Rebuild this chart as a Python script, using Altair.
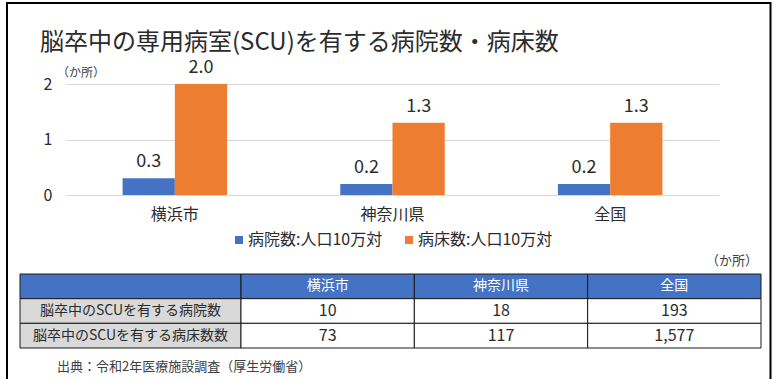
import altair as alt
import pandas as pd

FONT = "Noto Sans CJK JP"
DARK = "#2b2b2b"

# ---- chart values -------------------------------------------------------
title_text = "脳卒中の専用病室(SCU)を有する病院数・病床数"
unit_text = "（か所）"
source_text = "出典：令和2年医療施設調査（厚生労働省）"

regions = ["横浜市", "神奈川県", "全国"]
series_names = ["病院数:人口10万対", "病床数:人口10万対"]
hospitals_per_100k = [0.3, 0.2, 0.2]
beds_per_100k = [2.0, 1.3, 1.3]
series_colors = ["#4472C4", "#ED7D31"]
y_ticks = [0, 1, 2]

row_labels = ["脳卒中のSCUを有する病院数", "脳卒中のSCUを有する病床数数"]
hospital_counts = ["10", "18", "193"]
bed_counts = ["73", "117", "1,577"]

# ---- tables built from the values ----------------------------------------
bars_df = pd.DataFrame({
    "region": regions * 2,
    "series": [series_names[0]] * len(regions) + [series_names[1]] * len(regions),
    "value": hospitals_per_100k + beds_per_100k,
})
bars_df["label"] = bars_df["value"].map(lambda v: f"{v:.1f}")

cells = [{"r": 0, "c": 0, "text": "", "kind": "head"}]
cells += [{"r": 0, "c": i + 1, "text": name, "kind": "head"} for i, name in enumerate(regions)]
for r, (label, counts) in enumerate(zip(row_labels, [hospital_counts, bed_counts]), start=1):
    cells.append({"r": r, "c": 0, "text": label, "kind": "label"})
    cells += [{"r": r, "c": i + 1, "text": v, "kind": "value"} for i, v in enumerate(counts)]
cells_df = pd.DataFrame(cells)

one = pd.DataFrame({"t": [""]})

# ---- outer frame and free-standing texts ---------------------------------
frame = alt.Chart(one).mark_rect(filled=False, stroke="#000000", strokeWidth=2).encode(
    x=alt.value(7), x2=alt.value(770.5), y=alt.value(3), y2=alt.value(430)
)

title = alt.Chart(pd.DataFrame({"t": [title_text]})).mark_text(
    font=FONT, fontSize=24, color=DARK, align="left", baseline="alphabetic"
).encode(text="t:N", x=alt.value(40), y=alt.value(50))

unit_top = alt.Chart(pd.DataFrame({"t": [unit_text]})).mark_text(
    font=FONT, fontSize=12, color="#404040", align="left", baseline="middle"
).encode(text="t:N", x=alt.value(57), y=alt.value(73))

unit_right = alt.Chart(pd.DataFrame({"t": [unit_text]})).mark_text(
    font=FONT, fontSize=13, color="#404040", align="right", baseline="middle"
).encode(text="t:N", x=alt.value(758), y=alt.value(261))

source = alt.Chart(pd.DataFrame({"t": [source_text]})).mark_text(
    font=FONT, fontSize=13, color="#404040", align="left", baseline="middle"
).encode(text="t:N", x=alt.value(57), y=alt.value(367))

# ---- grouped bar chart ----------------------------------------------------
x_enc = alt.X(
    "region:N", sort=regions,
    scale=alt.Scale(range=[66, 719], paddingInner=0.52, paddingOuter=0.26),
    axis=alt.Axis(title=None, orient="bottom", offset=-184, domain=False, ticks=False,
                  tickSize=0, labelPadding=11, labelAngle=0, labelFont=FONT,
                  labelFontSize=16, labelColor=DARK, grid=False),
)
y_enc = alt.Y(
    "value:Q",
    scale=alt.Scale(domain=[0, 2], range=[195, 84], nice=False, zero=True),
    axis=alt.Axis(title=None, orient="left", offset=-66, values=y_ticks, tickCount=10,
                  labelExpr="format(datum.value, 'd')", domain=False, ticks=False,
                  tickSize=0, labelPadding=14, labelFont=FONT, labelFontSize=16,
                  labelColor=DARK, labelOverlap=False, grid=True, gridColor="#D9D9D9",
                  gridWidth=1),
)
xoff_enc = alt.XOffset("series:N", sort=series_names,
                       scale=alt.Scale(paddingInner=0, paddingOuter=0))
color_enc = alt.Color(
    "series:N", sort=series_names,
    scale=alt.Scale(domain=series_names, range=series_colors),
    legend=alt.Legend(title=None, orient="none", legendX=231, legendY=232,
                      direction="horizontal", symbolType="square", symbolSize=64,
                      symbolStrokeWidth=0, labelFont=FONT, labelFontSize=16,
                      labelColor=DARK, labelOffset=1, columnPadding=18, padding=0,
                      labelLimit=300),
)

bars = alt.Chart(bars_df).mark_bar().encode(
    x=x_enc, xOffset=xoff_enc, y=y_enc, color=color_enc
)
bar_labels = alt.Chart(bars_df).mark_text(
    font=FONT, fontSize=18, color=DARK, baseline="alphabetic", dy=-11
).encode(x=x_enc, xOffset=xoff_enc, y=y_enc, text="label:N")

bar_chart = alt.layer(bars, bar_labels)

# ---- data table -----------------------------------------------------------
tx_scale = alt.Scale(domain=[0, 1, 4], range=[20, 241, 761], zero=False, nice=False)
ty_scale = alt.Scale(domain=[0, 3], range=[274, 348], zero=False, nice=False)

base_cells = alt.Chart(cells_df).transform_calculate(
    c1="datum.c + 1", r1="datum.r + 1", cm="datum.c + 0.5", rm="datum.r + 0.5"
)

cell_rects = base_cells.mark_rect(stroke="#1a1a1a", strokeWidth=1).encode(
    x=alt.X("c:Q", scale=tx_scale, axis=None),
    x2="c1:Q",
    y=alt.Y("r:Q", scale=ty_scale, axis=None),
    y2="r1:Q",
    color=alt.Color("kind:N", scale=alt.Scale(domain=["head", "label", "value"],
                                              range=["#4472C4", "#D9D9D9", "#FFFFFF"]),
                    legend=None),
)

def cell_text(kind, size, colour):
    return base_cells.transform_filter(alt.datum.kind == kind).mark_text(
        font=FONT, fontSize=size, color=colour, baseline="middle", align="center"
    ).encode(
        x=alt.X("cm:Q", scale=tx_scale, axis=None),
        y=alt.Y("rm:Q", scale=ty_scale, axis=None),
        text="text:N",
    )

table = alt.layer(
    cell_rects,
    cell_text("head", 14, "#FFFFFF"),
    cell_text("label", 14, DARK),
    cell_text("value", 16, DARK),
)

chart = alt.layer(
    frame, title, unit_top, bar_chart, unit_right, table, source
).resolve_scale(
    x="independent", y="independent", color="independent", xOffset="independent"
).properties(
    width=777, height=379, padding=0,
    autosize=alt.AutoSizeParams(type="none"),
    background="#FFFFFF",
).configure_view(stroke=None)

chart.save("out.html", embed_options={"renderer": "svg", "actions": False})
